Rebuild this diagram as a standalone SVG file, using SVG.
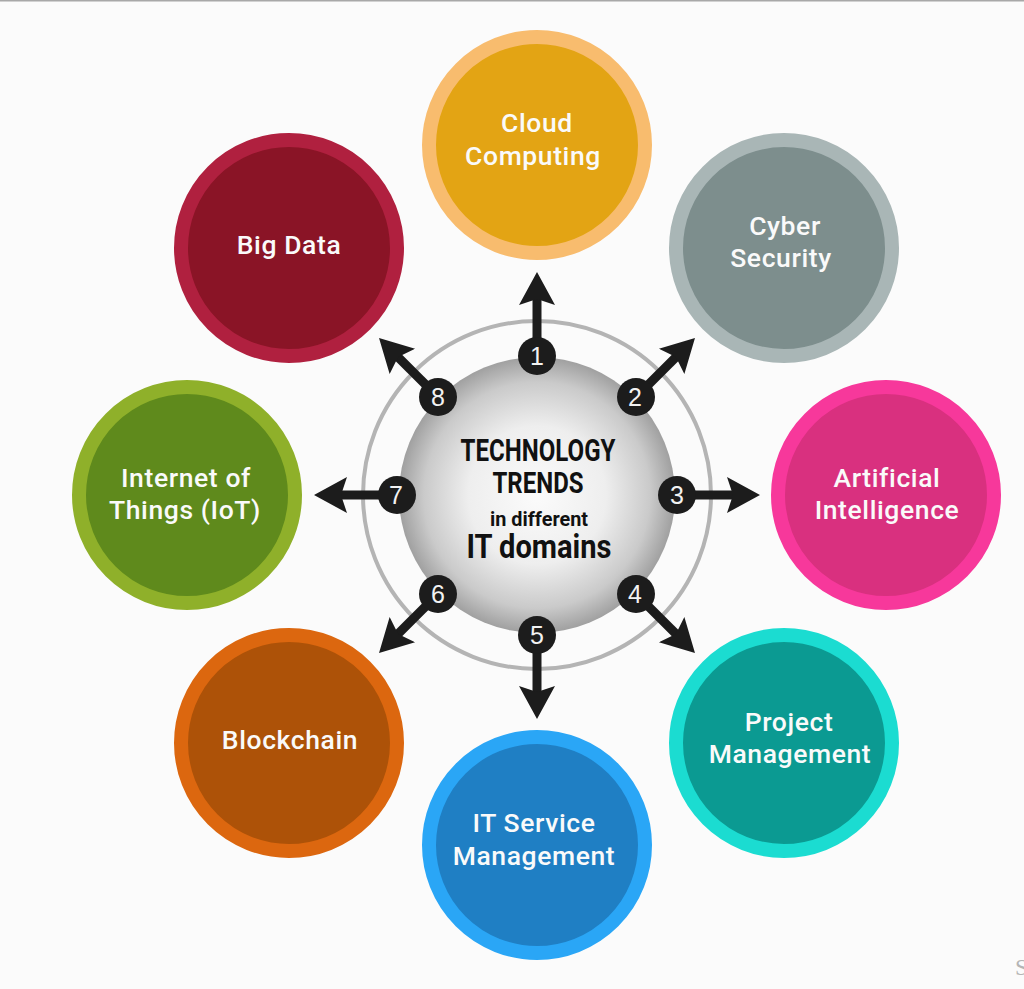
<svg xmlns="http://www.w3.org/2000/svg" width="1024" height="989" viewBox="0 0 1024 989">
<style>
.r{stroke-width:14}
.l{font-family:Roboto,"Liberation Sans",sans-serif;font-size:26.5px;font-weight:500;fill:#fafafa;text-anchor:middle;letter-spacing:.6px}
.n{font-family:"Liberation Sans",sans-serif;font-size:25px;fill:#f2f2f2;text-anchor:middle}
.c{font-family:Roboto,"Liberation Sans",Arial,sans-serif;font-weight:700;fill:#111;text-anchor:middle}
.a{stroke:#1c1c1c;stroke-width:9;fill:none;marker-end:url(#h)}
</style>
<defs>
<radialGradient id="s" cx="50%" cy="50%" r="50%"><stop offset="0" stop-color="#fbfbfb"/><stop offset=".5" stop-color="#eeeeee"/><stop offset=".82" stop-color="#cacaca"/><stop offset="1" stop-color="#a0a0a0"/></radialGradient>
<marker id="h" markerUnits="userSpaceOnUse" markerWidth="40" markerHeight="40" refX="8" refY="20" orient="auto"><path d="M33 20L0 2L6 20L0 38Z" fill="#1c1c1c"/></marker>
</defs>
<rect width="1024" height="989" fill="#fbfbfb"/>
<rect width="1024" height="1.5" fill="#a8a8a8"/>
<text x="1015" y="975" font-family="Liberation Serif,serif" font-size="24" fill="#b5b5b5">S</text>

<g id="ring"><circle cx="537" cy="495" r="174" fill="none" stroke="#b4b4b4" stroke-width="4"/></g>
<g id="hub"><circle cx="537" cy="495" r="138" fill="url(#s)"/>
<text class="c" x="538" y="461" font-size="32" textLength="155" lengthAdjust="spacingAndGlyphs">TECHNOLOGY</text>
<text class="c" x="538" y="493" font-size="29" textLength="91" lengthAdjust="spacingAndGlyphs">TRENDS</text>
<text class="c" x="539" y="526" font-size="21" textLength="98" lengthAdjust="spacingAndGlyphs">in different</text>
<text class="c" x="539" y="558" font-size="34" textLength="145" lengthAdjust="spacingAndGlyphs">IT domains</text></g>

<g id="connectors">
<path class="a" d="M537 356V297"/><path class="a" d="M636 397L677.3 355.7"/><path class="a" d="M677 495H735"/><path class="a" d="M636 594L677.3 635.3"/>
<path class="a" d="M537 635V694"/><path class="a" d="M438 594L396.7 635.3"/><path class="a" d="M397 495H339"/><path class="a" d="M438 397L396.7 355.7"/>
</g>

<g id="badges" fill="#1c1c1c">
<circle cx="537" cy="356" r="19"/><text class="n" x="537" y="365">1</text>
<circle cx="636" cy="397" r="19"/><text class="n" x="635" y="406">2</text>
<circle cx="677" cy="495" r="19"/><text class="n" x="677" y="504">3</text>
<circle cx="636" cy="594" r="19"/><text class="n" x="635" y="603">4</text>
<circle cx="537" cy="635" r="19"/><text class="n" x="537" y="644">5</text>
<circle cx="438" cy="594" r="19"/><text class="n" x="438" y="603">6</text>
<circle cx="397" cy="495" r="19"/><text class="n" x="396" y="504">7</text>
<circle cx="438" cy="397" r="19"/><text class="n" x="438" y="406">8</text>
</g>

<g id="cloud"><circle cx="537" cy="145" r="108" fill="#e3a414" stroke="#f8bc6e" class="r"/><text class="l" x="537" y="132">Cloud</text><text class="l" x="533" y="165">Computing</text></g>
<g id="cyber"><circle cx="784" cy="248" r="108" fill="#7d8e8d" stroke="#a9b6b6" class="r"/><text class="l" x="785" y="235">Cyber</text><text class="l" x="781" y="267">Security</text></g>
<g id="ai"><circle cx="886" cy="495" r="108" fill="#d9307f" stroke="#f7389b" class="r"/><text class="l" x="887" y="487">Artificial</text><text class="l" x="887" y="519">Intelligence</text></g>
<g id="pm"><circle cx="784" cy="743" r="108" fill="#0b9a92" stroke="#1bdcd1" class="r"/><text class="l" x="789" y="731">Project</text><text class="l" x="790" y="763">Management</text></g>
<g id="itsm"><circle cx="537" cy="845" r="108" fill="#1f7fc4" stroke="#2aa6f6" class="r"/><text class="l" x="534" y="832">IT Service</text><text class="l" x="534" y="865">Management</text></g>
<g id="blockchain"><circle cx="289" cy="743" r="108" fill="#ad5208" stroke="#dc670f" class="r"/><text class="l" x="290" y="749">Blockchain</text></g>
<g id="iot"><circle cx="187" cy="495" r="108" fill="#5f8a1c" stroke="#8fb02a" class="r"/><text class="l" x="186" y="487">Internet of</text><text class="l" x="185" y="519">Things (IoT)</text></g>
<g id="bigdata"><circle cx="289" cy="248" r="108" fill="#8a1426" stroke="#b0203f" class="r"/><text class="l" x="289" y="254">Big Data</text></g>
</svg>
